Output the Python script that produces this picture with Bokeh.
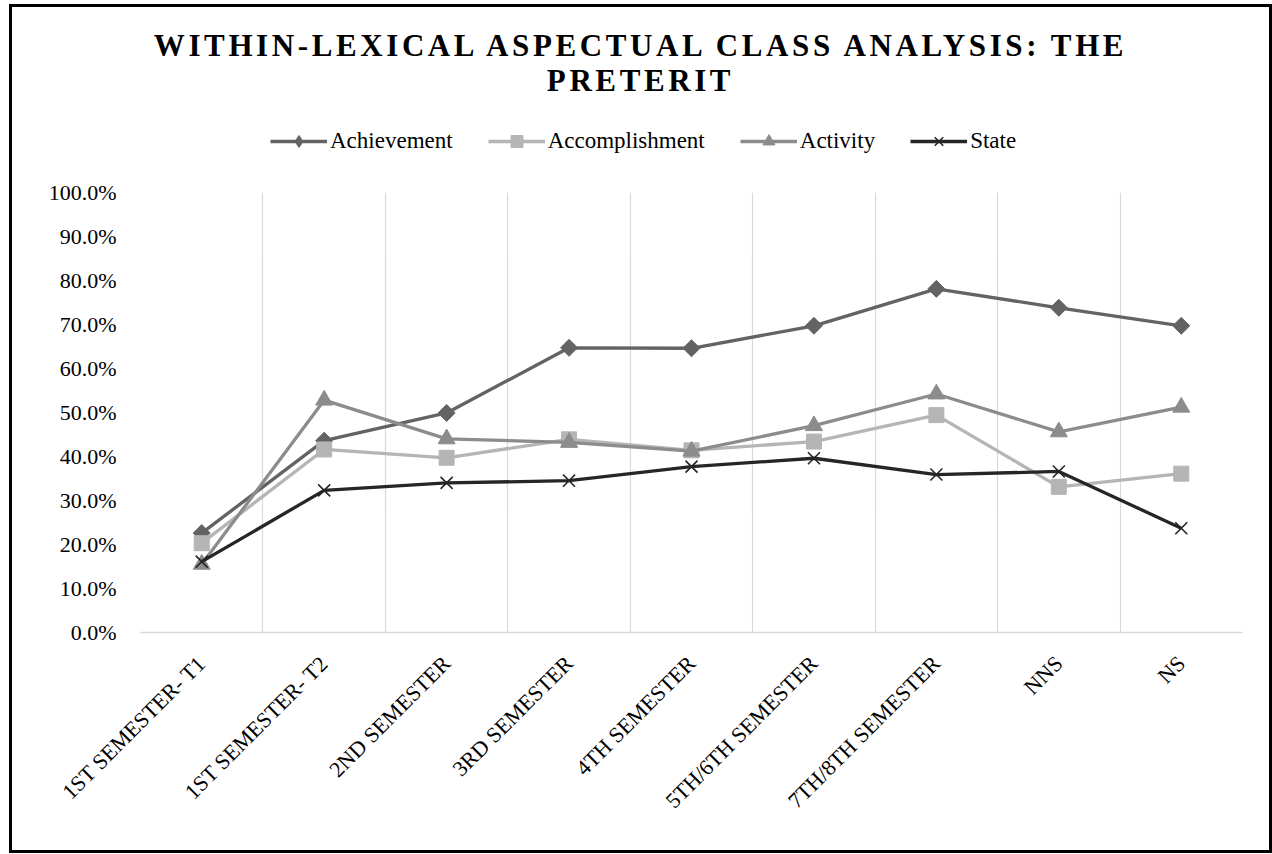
import math
import numpy as np
from bokeh.plotting import figure
from bokeh.models import Div, Legend, LegendItem, FixedTicker, NumeralTickFormatter, Range1d
from bokeh.layouts import column
from bokeh.embed import file_html
from bokeh.resources import INLINE

title_line1 = "WITHIN-LEXICAL ASPECTUAL CLASS ANALYSIS: THE"
title_line2 = "PRETERIT"

categories = ["1ST SEMESTER- T1", "1ST SEMESTER- T2", "2ND SEMESTER", "3RD SEMESTER",
              "4TH SEMESTER", "5TH/6TH SEMESTER", "7TH/8TH SEMESTER", "NNS", "NS"]
achievement = [0.226, 0.436, 0.499, 0.647, 0.646, 0.697, 0.781, 0.738, 0.697]
accomplishment = [0.203, 0.416, 0.397, 0.439, 0.414, 0.434, 0.494, 0.331, 0.361]
activity = [0.155, 0.528, 0.440, 0.432, 0.412, 0.470, 0.542, 0.456, 0.512]
state = [0.161, 0.323, 0.340, 0.345, 0.377, 0.396, 0.359, 0.366, 0.237]
series_names = ["Achievement", "Accomplishment", "Activity", "State"]
y_ticks = [0.0, 0.1, 0.2, 0.3, 0.4, 0.5, 0.6, 0.7, 0.8, 0.9, 1.0]

SERIF = "Liberation Serif"
INNER_W = 1257

x = (np.arange(len(categories)) + 0.5).tolist()

p = figure(width=INNER_W, height=683, output_backend="svg", toolbar_location=None,
           x_range=Range1d(0, len(categories)), y_range=Range1d(0, 1),
           min_border_left=128, min_border_right=27, min_border_top=25, min_border_bottom=218,
           margin=0)
p.outline_line_color = None
p.background_fill_color = "white"
p.border_fill_color = "white"

# grid
p.ygrid.grid_line_color = None
p.xgrid.ticker = FixedTicker(ticks=list(range(len(categories) + 1)))
p.xgrid.grid_line_color = "#D9D9D9"
p.xgrid.grid_line_width = 1.2

# y axis
p.yaxis.ticker = FixedTicker(ticks=y_ticks)
p.yaxis.formatter = NumeralTickFormatter(format="0.0%")
p.yaxis.axis_line_color = None
p.yaxis.major_tick_line_color = None
p.yaxis.minor_tick_line_color = None
p.yaxis.major_tick_out = 0
p.yaxis.major_label_standoff = 24
p.yaxis.major_label_text_font = SERIF
p.yaxis.major_label_text_font_size = "22px"
p.yaxis.major_label_text_color = "#000000"

# x axis
p.xaxis.ticker = FixedTicker(ticks=x)
p.xaxis.major_label_overrides = {xv: c for xv, c in zip(x, categories)}
p.xaxis.major_label_orientation = math.pi / 4
p.xaxis.axis_line_color = "#D9D9D9"
p.xaxis.axis_line_width = 1.5
p.xaxis.major_tick_line_color = None
p.xaxis.minor_tick_line_color = None
p.xaxis.major_tick_out = 0
p.xaxis.major_label_standoff = 27
p.xaxis.major_label_text_font = SERIF
p.xaxis.major_label_text_font_size = "22px"
p.xaxis.major_label_text_color = "#000000"

# (values, colour, plot marker, size, angle, legend marker)
styles = [
    (achievement, "#636363", "square", 12, math.pi / 4, "diamond"),
    (accomplishment, "#B5B5B5", "square", 15, 0.0, "square"),
    (activity, "#8C8C8C", "triangle", 17, 0.0, "triangle"),
    (state, "#262626", "x", 17, 0.0, "x"),
]


def draw(fig, xs, vals, color, marker, size, ang):
    lr = fig.line(xs, vals, line_color=color, line_width=3.3)
    if marker == "x":
        sr = fig.scatter(xs, vals, marker="x", size=size, line_color=color, line_width=1.6)
    else:
        sr = fig.scatter(xs, vals, marker=marker, size=size, angle=ang,
                         fill_color=color, line_color=color, line_width=1)
    return lr, sr


for vals, color, marker, size, ang, _ in styles:
    draw(p, x, vals, color, marker, size, ang)

# legend strip: a small figure (frame aligned with the plot) whose view range
# excludes the data, so only its legend shows
lg = figure(width=INNER_W, height=60, output_backend="svg", toolbar_location=None,
            x_range=Range1d(0, len(categories)), y_range=Range1d(2, 3), margin=0,
            min_border_left=0, min_border_right=0, min_border_top=0, min_border_bottom=0)
lg.axis.visible = False
lg.grid.visible = False
lg.outline_line_color = None
lg.background_fill_color = "white"
lg.border_fill_color = "white"

items = []
for name, (vals, color, marker, size, ang, lmarker) in zip(series_names, styles):
    lr, sr = draw(lg, x, vals, color, lmarker, size, 0.0)
    items.append(LegendItem(label=name, renderers=[lr, sr]))

legend = Legend(items=items, orientation="horizontal", location=(130, 11),
                glyph_width=57, glyph_height=30, label_standoff=3, spacing=35,
                padding=0, margin=0, border_line_color=None, background_fill_alpha=0,
                label_text_font=SERIF, label_text_font_size="23px", label_text_color="#000000")
lg.add_layout(legend)

title = Div(
    text=(f'<div style="font-family:\'{SERIF}\';font-weight:bold;font-size:31px;'
          f'letter-spacing:3.6px;line-height:35px;text-align:center;color:#000;'
          f'padding-top:21px;width:{INNER_W}px;">'
          f'{title_line1}<br>{title_line2}</div>'),
    width=INNER_W, height=100, margin=0)

layout = column(title, lg, p, spacing=0,
                styles={"border": "3px solid #000000", "background-color": "white",
                        "margin-left": "9px", "margin-top": "4px"})

open("out.html", "w").write(file_html(layout, INLINE))
